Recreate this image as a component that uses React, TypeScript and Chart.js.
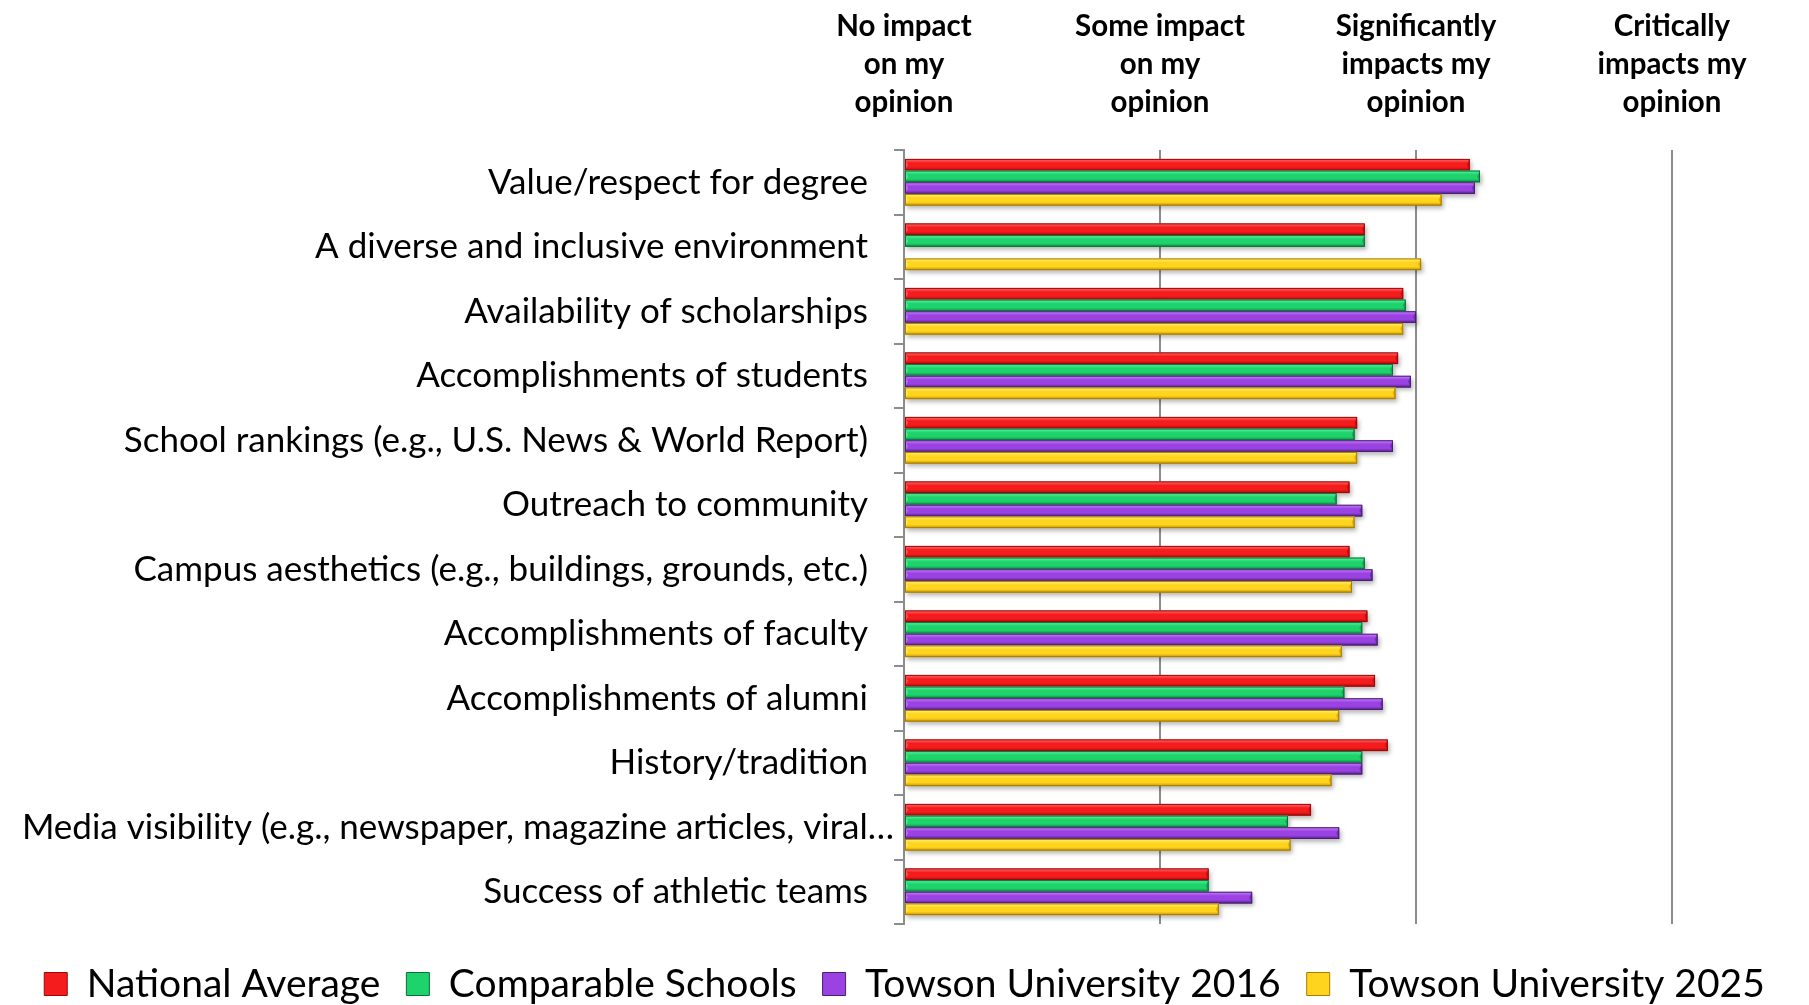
import React, { useEffect, useRef } from "react";
import { Chart, registerables } from "chart.js";

Chart.register(...registerables);

const categories = [
  "Value/respect for degree",
  "A diverse and inclusive environment",
  "Availability of scholarships",
  "Accomplishments of students",
  "School rankings (e.g., U.S. News & World Report)",
  "Outreach to community",
  "Campus aesthetics (e.g., buildings, grounds, etc.)",
  "Accomplishments of faculty",
  "Accomplishments of alumni",
  "History/tradition",
  "Media visibility (e.g., newspaper, magazine articles, viral…",
  "Success of athletic teams",
];

const seriesNames = [
  "National Average",
  "Comparable Schools",
  "Towson University 2016",
  "Towson University 2025",
];

const nationalAverage = [3.21, 2.8, 2.95, 2.93, 2.77, 2.74, 2.74, 2.81, 2.84, 2.89, 2.59, 2.19];
const comparableSchools = [3.25, 2.8, 2.96, 2.91, 2.76, 2.69, 2.8, 2.79, 2.72, 2.79, 2.5, 2.19];
const towson2016 = [3.23, null, 3.0, 2.98, 2.91, 2.79, 2.83, 2.85, 2.87, 2.79, 2.7, 2.36];
const towson2025 = [3.1, 3.02, 2.95, 2.92, 2.77, 2.76, 2.75, 2.71, 2.7, 2.67, 2.51, 2.23];

const xTickLabels: Record<number, string[]> = {
  1: ["No impact", "on my", "opinion"],
  2: ["Some impact", "on my", "opinion"],
  3: ["Significantly", "impacts my", "opinion"],
  4: ["Critically", "impacts my", "opinion"],
};

const palette = [
  { light: "#ff7070", mid: "#f41c1c", dark: "#b00808", border: "#9a0a0a" },
  { light: "#5cf7a6", mid: "#1fd36c", dark: "#0c8b44", border: "#0b7038" },
  { light: "#c985ff", mid: "#9a42e2", dark: "#56208c", border: "#48206f" },
  { light: "#fff27a", mid: "#ffd41f", dark: "#c69400", border: "#a87d00" },
];

const FONT = "Lato, 'Open Sans', sans-serif";

const barStylePlugin = {
  id: "barStyle",
  afterDatasetsDraw(chart: any) {
    const ctx = chart.ctx;
    const area = chart.chartArea;
    ctx.save();
    ctx.beginPath();
    ctx.rect(area.left, area.top - 5, area.right - area.left + 20, area.bottom - area.top + 10);
    ctx.clip();
    chart.data.datasets.forEach((ds: any, di: number) => {
      const meta = chart.getDatasetMeta(di);
      const c = palette[di];
      meta.data.forEach((el: any, i: number) => {
        if (ds.data[i] == null) return;
        const { x, y, base, height } = el.getProps(["x", "y", "base", "height"], true);
        const top = y - height / 2;
        const left = Math.min(base, x);
        const w = Math.abs(x - base);
        ctx.save();
        ctx.shadowColor = "rgba(0,0,0,0.28)";
        ctx.shadowBlur = 4;
        ctx.shadowOffsetX = 2;
        ctx.shadowOffsetY = 3;
        const g = ctx.createLinearGradient(0, top, 0, top + height);
        g.addColorStop(0, c.light);
        g.addColorStop(0.35, c.mid);
        g.addColorStop(0.7, c.mid);
        g.addColorStop(1, c.dark);
        ctx.fillStyle = g;
        ctx.fillRect(left, top, w, height);
        ctx.restore();
        ctx.save();
        ctx.fillStyle = c.dark;
        ctx.globalAlpha = 0.55;
        ctx.beginPath();
        ctx.moveTo(left + w, top);
        ctx.lineTo(left + w - 3, top + height / 2);
        ctx.lineTo(left + w, top + height);
        ctx.closePath();
        ctx.fill();
        ctx.globalAlpha = 0.7;
        ctx.fillStyle = c.light;
        ctx.beginPath();
        ctx.moveTo(left, top);
        ctx.lineTo(left + 3, top + height / 2);
        ctx.lineTo(left, top + height);
        ctx.closePath();
        ctx.fill();
        ctx.globalAlpha = 1;
        ctx.strokeStyle = c.border;
        ctx.lineWidth = 1;
        ctx.strokeRect(left + 0.5, top + 0.5, w - 1, height - 1);
        ctx.restore();
      });
    });
    ctx.restore();
  },
};

const categoryLabelPlugin = {
  id: "categoryLabels",
  afterDraw(chart: any) {
    const ctx = chart.ctx;
    const yScale = chart.scales.y;
    const area = chart.chartArea;
    ctx.save();
    ctx.font = `35px ${FONT}`;
    ctx.fillStyle = "#000";
    ctx.textBaseline = "middle";
    ctx.textAlign = "right";
    categories.forEach((label, i) => {
      const yy = yScale.getPixelForValue(i);
      if (label.endsWith("…")) {
        ctx.fillText(label, area.left - 10, yy, area.left - 28);
      } else {
        ctx.fillText(label, area.left - 36, yy);
      }
    });
    ctx.restore();
  },
};

export default function App() {
  const canvasRef = useRef<HTMLCanvasElement | null>(null);

  useEffect(() => {
    if (!canvasRef.current) return;
    const series = [nationalAverage, comparableSchools, towson2016, towson2025];
    const chart = new Chart(canvasRef.current, {
      type: "bar",
      data: {
        labels: categories,
        datasets: series.map((d, i) => ({
          label: seriesNames[i],
          data: d,
          base: 1,
          backgroundColor: palette[i].mid,
          borderColor: palette[i].border,
          borderWidth: 1,
          barPercentage: 1,
          categoryPercentage: 0.724,
        })),
      },
      options: {
        indexAxis: "y",
        animation: false,
        responsive: true,
        maintainAspectRatio: false,
        layout: { padding: { left: 0, right: 0, top: 0, bottom: -8.5 } },
        scales: {
          x: {
            position: "top",
            min: 1,
            max: 4,
            afterFit: (scale: any) => {
              scale.height = 150;
            },
            ticks: {
              stepSize: 1,
              padding: 28,
              color: "#000",
              font: { family: FONT, size: 29.5, weight: "bold", lineHeight: 1.3 },
              callback: (v: any) => xTickLabels[Number(v)] ?? "",
              maxRotation: 0,
            },
            grid: { color: "#8c8c8c", lineWidth: 2, drawTicks: false },
            border: { display: false },
          },
          xSpacer: {
            type: "linear",
            position: "bottom",
            afterFit: (scale: any) => {
              scale.height = 14.5;
            },
            ticks: { display: false },
            grid: { display: false },
            border: { display: false },
          },
          y: {
            afterFit: (scale: any) => {
              scale.width = 904;
            },
            ticks: { display: false },
            grid: {
              offset: true,
              drawOnChartArea: false,
              color: "#8c8c8c",
              lineWidth: 2,
              tickLength: 10,
            },
            border: { display: true, color: "#8c8c8c", width: 2 },
          },
          ySpacer: {
            type: "category",
            position: "right",
            afterFit: (scale: any) => {
              scale.width = 137;
            },
            ticks: { display: false },
            grid: { display: false },
            border: { display: false },
          },
        },
        plugins: {
          legend: {
            position: "bottom",
            labels: {
              color: "#000",
              font: { family: FONT, size: 39 },
              boxWidth: 23,
              boxHeight: 23,
              padding: 26,
            },
          },
          tooltip: { enabled: false },
        },
      },
      plugins: [barStylePlugin, categoryLabelPlugin],
    });
    return () => chart.destroy();
  }, []);

  return (
    <div style={{ position: "absolute", left: 0, top: 0, width: 1809, height: 1005 }}>
      <canvas ref={canvasRef} />
    </div>
  );
}
